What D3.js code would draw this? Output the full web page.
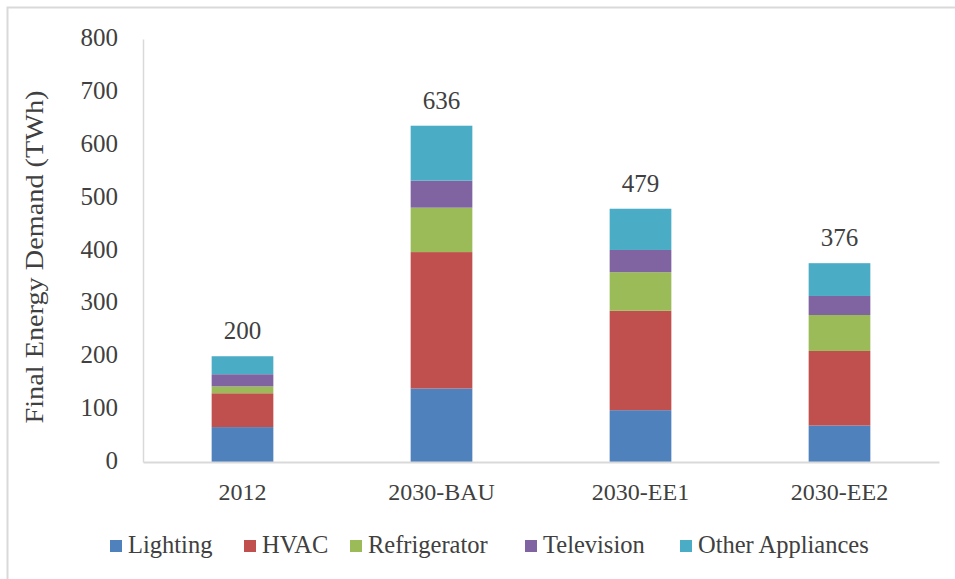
<!DOCTYPE html>
<html>
<head>
<meta charset="utf-8">
<script src="https://cdn.jsdelivr.net/npm/d3@7"></script>
<style>
body { margin: 0; background: #fff; }
svg text { font-family: "Liberation Serif", "Times New Roman", serif; fill: #404040; }
</style>
</head>
<body>
<div id="svg_container"></div>
<script>
/* -----------------------
data
------------------------- */
var categories = ["2012", "2030-BAU", "2030-EE1", "2030-EE2"];
var seriesNames = ["Lighting", "HVAC", "Refrigerator", "Television", "Other Appliances"];
var lighting     = [66, 139, 98, 69];
var hvac         = [64, 258, 188, 141];
var refrigerator = [13, 84, 73, 68];
var television   = [23, 51, 42, 36];
var other        = [34, 104, 78, 62];
var totals       = [200, 636, 479, 376];
var yTicks = [0, 100, 200, 300, 400, 500, 600, 700, 800];
var colors = ["#4f81bd", "#c0504d", "#9bbb59", "#8064a2", "#4bacc6"];

/* -----------------------
main variables
------------------------- */
var width = 955, height = 579;
var margin = {top: 39, right: 16, bottom: 117, left: 143};
var plot_w = 939 - margin.left,
    plot_h = 462 - margin.top;

var svg = d3.select("#svg_container")
    .append("svg")
    .attr("width", width)
    .attr("height", height);

// outer frame
svg.append("rect")
    .attr("x", 7.5).attr("y", 7.5)
    .attr("width", width + 20).attr("height", height + 20)
    .attr("fill", "none")
    .attr("stroke", "#d9d9d9")
    .attr("stroke-width", 2);

var plot = svg.append("g")
    .attr("transform", "translate(" + margin.left + "," + margin.top + ")");

var rows = categories.map(function(c, i) {
    return {cat: c, "Lighting": lighting[i], "HVAC": hvac[i], "Refrigerator": refrigerator[i],
            "Television": television[i], "Other Appliances": other[i], total: totals[i]};
});

var x = d3.scaleBand().domain(categories).range([0, plot_w]).paddingInner(0.69).paddingOuter(0.345);
var y = d3.scaleLinear().domain([0, 800]).range([plot_h, 0]);
var color = d3.scaleOrdinal().domain(seriesNames).range(colors);

var stack = d3.stack().keys(seriesNames)(rows);

// y axis
var yAxis = plot.append("g")
    .call(d3.axisLeft(y).tickValues(yTicks).tickSize(0).tickPadding(25));
yAxis.select(".domain").attr("stroke", "#d9d9d9").attr("stroke-width", 1.5);
yAxis.selectAll("text").attr("font-size", "25px").attr("dy", "0.26em");

// bars
plot.append("g").selectAll("g")
    .data(stack)
    .join("g")
    .attr("fill", function(d) { return color(d.key); })
    .selectAll("rect")
    .data(function(d) { return d; })
    .join("rect")
    .attr("x", function(d) { return x(d.data.cat); })
    .attr("y", function(d) { return y(d[1]); })
    .attr("height", function(d) { return y(d[0]) - y(d[1]); })
    .attr("width", x.bandwidth());

// x axis
var xAxis = plot.append("g")
    .attr("transform", "translate(0," + plot_h + ")")
    .call(d3.axisBottom(x).tickSize(0).tickPadding(0));
xAxis.select(".domain").attr("stroke", "#d9d9d9").attr("stroke-width", 2);
xAxis.selectAll("text").attr("font-size", "24px").attr("dy", null).attr("y", 38);

// total labels
plot.append("g").selectAll("text")
    .data(rows)
    .join("text")
    .attr("x", function(d) { return x(d.cat) + x.bandwidth() / 2; })
    .attr("y", function(d) { return y(d.total) - 17; })
    .attr("text-anchor", "middle")
    .attr("font-size", "25px")
    .text(function(d) { return d.total; });

// y title
svg.append("text")
    .attr("transform", "translate(43,257) rotate(-90)")
    .attr("text-anchor", "middle")
    .attr("font-size", "26px")
    .attr("textLength", 333)
    .attr("lengthAdjust", "spacingAndGlyphs")
    .text("Final Energy Demand (TWh)");

// legend
var legend = svg.append("g").attr("transform", "translate(0,546)");
var lx = [110, 244, 350, 525, 680];
var item = legend.selectAll("g")
    .data(seriesNames)
    .join("g")
    .attr("transform", function(d, i) { return "translate(" + lx[i] + ",0)"; });
item.append("rect")
    .attr("x", 0).attr("y", -6)
    .attr("width", 12).attr("height", 12)
    .attr("fill", function(d) { return color(d); });
item.append("text")
    .attr("x", 18).attr("y", 0)
    .attr("dy", "0.3em")
    .attr("font-size", "24.5px")
    .text(function(d) { return d; });
</script>
</body>
</html>
